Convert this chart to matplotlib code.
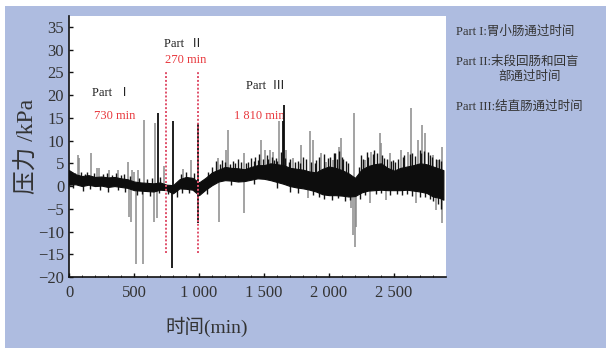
import numpy as np
import matplotlib.pyplot as plt
from matplotlib.patches import Rectangle

plt.rcParams['font.family'] = ['Liberation Serif', 'Noto Sans CJK SC']
plt.rcParams['axes.unicode_minus'] = True

# envelope of the dense pressure trace (min, kPa)
t_env = [0, 50, 100, 150, 200, 250, 300, 350, 400, 450,
         500, 550, 600, 650, 700, 750, 800, 850, 900, 950,
         1000, 1050, 1100, 1150, 1200, 1250, 1300, 1350, 1400, 1450,
         1500, 1550, 1600, 1650, 1700, 1750, 1800, 1850, 1900, 1950,
         2000, 2050, 2100, 2150, 2200, 2250, 2300, 2350, 2400, 2450,
         2500, 2550, 2600, 2650, 2700, 2750, 2800, 2850, 2880]
upper = [3.5, 2.6, 2.2, 2.4, 2.0, 2.1, 1.9, 2.0, 1.7, 1.5,
         1.0, 0.8, 0.7, 0.6, 0.8, 0.3, 0.2, 1.5, 2.0, 1.8,
         0.8, 1.8, 3.0, 3.6, 4.2, 4.0, 3.9, 3.7, 4.2, 4.6,
         4.6, 5.0, 4.8, 4.6, 4.0, 3.8, 3.6, 3.2, 3.0, 3.8,
         4.3, 4.0, 3.5, 2.8, 1.8, 3.6, 4.4, 4.8, 5.0, 4.0,
         3.4, 4.0, 4.3, 4.6, 5.0, 4.8, 4.3, 3.8, 3.5]
lower = [0.3, 0.4, 0.0, 0.3, 0.0, 0.1, -0.2, 0.0, -0.2, -0.4,
         -0.9, -1.0, -1.1, -1.2, -0.8, -0.9, -1.6, -0.5, -0.6, -0.8,
         -2.0, -0.8, 0.2, 1.0, 1.3, 1.2, 1.0, 1.1, 1.4, 1.7,
         1.6, 1.3, 0.9, 0.5, 0.0, -0.3, -0.5, -0.8, -1.2, -1.8,
         -2.0, -2.0, -2.1, -2.3, -2.2, -1.4, -1.0, -0.9, -0.8, -0.9,
         -0.9, -0.9, -0.8, -1.0, -1.2, -1.5, -2.3, -2.6, -3.0]

# spikes: time (min), peak (kPa)
spike_t_grey = [67, 80, 169, 213, 233, 310, 374, 451, 485, 503, 528, 579, 662, 728,
                880, 938, 1146, 1210, 1223, 1344, 1480, 1505, 1544, 1569, 1616,
                1672, 1723, 1787, 1851, 1877, 1941, 1979, 2030, 2074, 2089, 2192,
                2274, 2325, 2389, 2397, 2466, 2556, 2607, 2628, 2684, 2718, 2736,
                2800, 2838, 2869,
                459, 480, 515, 572, 656, 674, 1151, 1344, 1839, 2171, 2184, 2197,
                2210, 2312, 2441, 2671, 2825, 2869]
spike_v_grey = [6.8, 6.1, 7.2, 3.9, 3.9, 3.5, 3.5, 5.4, 3.5, 3.2, 3.5, 14.5, 13.8, 4.4,
                3.8, 5.7, 6.1, 7.9, 12.3, 7.2, 10.1, 7.9, 7.9, 7.6, 14.2,
                7.9, 6.1, 9.0, 12.0, 10.1, 7.2, 5.4, 5.7, 8.7, 10.5, 16.0,
                5.7, 7.6, 11.6, 9.4, 7.2, 7.9, 7.6, 17.1, 10.1, 13.4, 11.6,
                6.8, 5.7, 8.7,
                -6.7, -7.8, -17.1, -17.1, -7.8, -7.1, -7.8, -6.0, -2.7, -4.9, -10.8, -13.3,
                -8.9, -3.8, -3.0, -3.8, -5.3, -8.2]
spike_t_black = [685, 798, 990, 990, 1646, 792, 1652]
spike_v_black = [16.0, 14.4, 13.8, -8.2, 14.3, -18.0, 17.8]

# short black spikes that give the band its ragged edge
fine_t = [20, 45, 90, 120, 140, 190, 260, 290, 330, 360, 400, 420, 470, 540, 600,
          640, 700, 860, 900, 960,
          1070, 1100, 1130, 1160, 1180, 1200, 1240, 1260, 1280, 1300, 1320, 1360,
          1380, 1400, 1420, 1430, 1450, 1460, 1490, 1520, 1530, 1560, 1580, 1590,
          1600, 1630, 1660, 1690, 1700, 1740, 1760, 1780, 1800, 1820, 1860, 1890,
          1900, 1920, 1960, 1990, 2010, 2040, 2050, 2060, 2080, 2100, 2110, 2130,
          2150, 2230, 2250, 2260, 2290, 2300, 2340, 2350, 2370, 2410, 2420, 2450,
          2480, 2490, 2510, 2530, 2570, 2580, 2620, 2640, 2660, 2700, 2710, 2730,
          2760, 2780, 2790, 2820, 2850, 2860]
fine_v = [3.0, 2.8, 3.2, 2.7, 3.0, 2.9, 2.6, 2.8, 2.5, 2.9, 2.4, 2.6, 2.3, 1.8, 1.6,
          1.7, 1.9, 2.6, 3.0, 2.8,
          3.0, 4.2, 5.5, 4.8, 5.8, 5.2, 4.8, 5.5, 5.0, 6.0, 5.2, 5.0,
          5.4, 6.2, 5.6, 6.5, 5.8, 7.0, 5.9, 6.8, 6.0, 6.3, 5.7, 6.2,
          5.6, 7.5, 6.2, 5.4, 6.0, 5.2, 5.5, 5.0, 6.3, 6.0, 5.4, 5.0,
          5.8, 6.5, 7.0, 6.2, 6.5, 7.3, 7.2, 6.0, 7.8, 6.4, 6.0, 5.5,
          5.0, 4.2, 6.8, 6.0, 7.5, 6.5, 7.0, 8.0, 7.2, 6.8, 6.2, 6.0,
          5.5, 5.8, 5.2, 6.0, 6.4, 6.8, 7.0, 7.2, 6.6, 8.0, 7.2, 7.8,
          7.5, 6.8, 6.5, 6.0, 6.0, 5.6]
fine_dn_t = [30, 110, 160, 240, 300, 380, 430, 520, 560, 620, 690, 760, 830, 870,
             920, 1060, 1250, 1420, 1600, 1700, 1760, 1880, 1920, 1960, 2020, 2070,
             2120, 2160, 2240, 2280, 2360, 2400, 2470, 2520, 2560, 2600, 2640, 2700,
             2740, 2780, 2800, 2840, 2860]
fine_dn_v = [-0.5, -1.0, -0.6, -0.8, -1.2, -0.9, -1.3, -2.0, -1.8, -2.2, -1.6, -1.8,
             -2.5, -1.6, -1.5, -1.8, 0.2, 0.4, -0.5, -1.2, -1.5, -2.0, -2.4, -2.8,
             -3.0, -2.6, -3.2, -3.0, -2.8, -2.0, -1.8, -1.6, -1.9, -1.7, -2.0, -1.8,
             -2.2, -2.4, -2.5, -2.8, -3.2, -4.0, -5.0]

part_marks = [745, 995]

fig = plt.figure(figsize=(6.06, 3.48), dpi=100)
fig.patch.set_facecolor('white')
fig.add_artist(Rectangle((5 / 606, 0), 1, 1 - 6 / 348, transform=fig.transFigure,
                         facecolor='#aebce0', edgecolor='none', zorder=-5))

ax = fig.add_axes([69 / 606, 1 - 277 / 348, 377 / 606, 261 / 348])
ax.set_facecolor('white')

mid = (np.array(upper) + np.array(lower)) / 2

def base(t):
    return np.interp(t, t_env, mid)

ax.vlines(spike_t_grey, base(spike_t_grey), spike_v_grey, color='#8a8a8a', lw=1.1, zorder=2)
ax.vlines(fine_t, base(fine_t), fine_v, color='#151515', lw=1.0, zorder=3)
ax.vlines(fine_dn_t, base(fine_dn_t), fine_dn_v, color='#151515', lw=1.0, zorder=3)
ax.fill_between(t_env, lower, upper, color='#0d0d0d', lw=0.8, zorder=3)
ax.vlines(spike_t_black, base(spike_t_black), spike_v_black, color='#0d0d0d', lw=1.3, zorder=4)

for tm in part_marks:
    ax.vlines(tm, -14.8, 25.4, color='#e0506a', lw=1.4, linestyles=(0, (1, 1)), zorder=5)

black = '#222222'
red = '#e8383d'
ax.text(330, 20.5, 'Part  Ⅰ', ha='center', va='center', fontsize=9, color=black)
ax.text(354, 15.4, '730 min', ha='center', va='center', fontsize=9, color=red)
ax.text(877, 31.3, 'Part  Ⅱ', ha='center', va='center', fontsize=9, color=black)
ax.text(900, 27.7, '270 min', ha='center', va='center', fontsize=9, color=red)
ax.text(1508, 22.0, 'Part  Ⅲ', ha='center', va='center', fontsize=9, color=black)
ax.text(1462, 15.4, '1 810 min', ha='center', va='center', fontsize=9, color=red)

ax.set_xlim(0, 2900)
ax.set_ylim(-20, 37.4)
ax.set_xticks([0, 500, 1000, 1500, 2000, 2500])
ax.set_xticklabels(['0', '500', '1 000', '1 500', '2 000', '2 500'])
ax.set_xticks(np.arange(100, 2900, 100), minor=True)
ax.set_yticks(np.arange(-20, 36, 5))
ax.tick_params(axis='both', direction='in', labelsize=12, length=3, width=1,
               colors='#111111', labelcolor='#333333')
ax.tick_params(axis='x', which='minor', direction='in', length=1.5, width=0.6)
ax.tick_params(axis='x', pad=6)
for s in ['top', 'right']:
    ax.spines[s].set_visible(False)
for s in ['left', 'bottom']:
    ax.spines[s].set_linewidth(1.2)
    ax.spines[s].set_color('#111111')

ax.set_ylabel('压力 /kPa', fontsize=17, color='#333333')
ax.yaxis.set_label_coords(-0.08, 0.5)
fig.text(207 / 606, 1 - 327 / 348, '时间(min)', ha='center', va='center',
         fontsize=14, color='#333333')

leg_col = '#333333'
fig.text(456 / 606, 1 - 32 / 348, 'Part I:胃小肠通过时间', fontsize=9, color=leg_col, va='center')
fig.text(456 / 606, 1 - 62 / 348, 'Part II:末段回肠和回盲', fontsize=9, color=leg_col, va='center')
fig.text(498 / 606, 1 - 77 / 348, '部通过时间', fontsize=9, color=leg_col, va='center')
fig.text(456 / 606, 1 - 107 / 348, 'Part III:结直肠通过时间', fontsize=9, color=leg_col, va='center')

fig.savefig('out.png', dpi=100, facecolor=fig.get_facecolor())
